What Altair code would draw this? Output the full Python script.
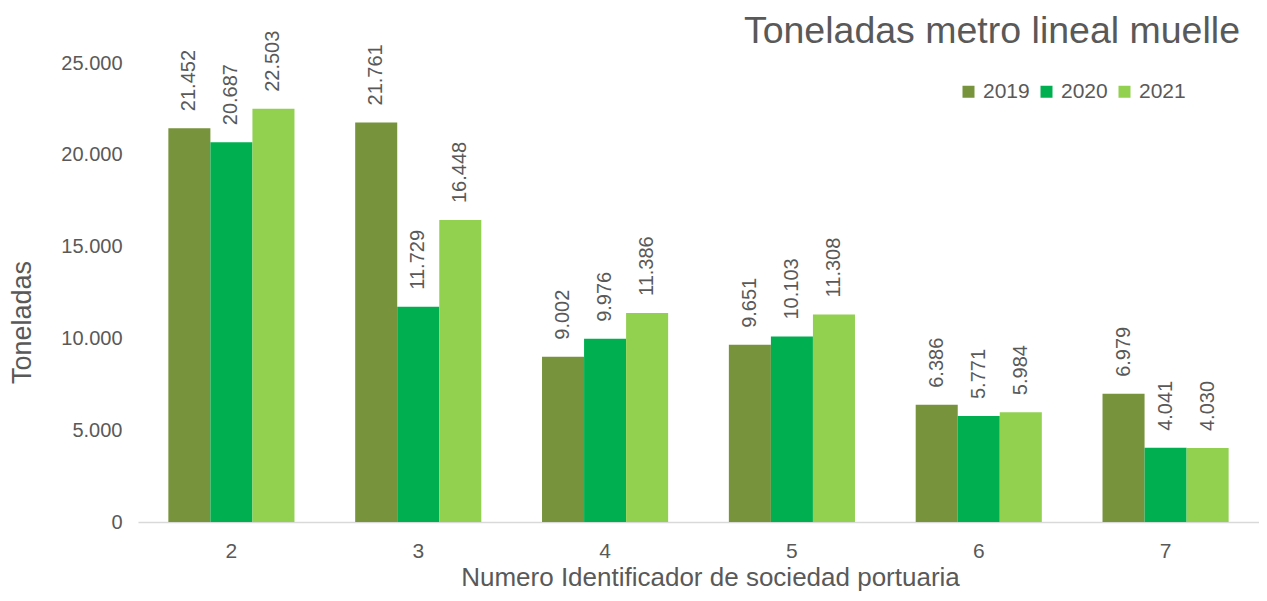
import altair as alt
import pandas as pd

sociedades = ["2", "3", "4", "5", "6", "7"]
anios = ["2019", "2020", "2021"]
v2019 = [21452, 21761, 9002, 9651, 6386, 6979]
v2020 = [20687, 11729, 9976, 10103, 5771, 4041]
v2021 = [22503, 16448, 11386, 11308, 5984, 4030]
colores = ["#77933C", "#00B050", "#92D050"]
y_ticks = [0, 5000, 10000, 15000, 20000, 25000]

rows = []
for anio, vals in zip(anios, [v2019, v2020, v2021]):
    for s, v in zip(sociedades, vals):
        rows.append({"sociedad": s, "anio": anio, "valor": v})
df = pd.DataFrame(rows)

FONT = "Liberation Sans"
GRAY = "#595959"
fmt = "replace(format(datum.valor, ','), ',', '.')"

x = alt.X(
    "sociedad:N", sort=sociedades,
    title="Numero Identificador de sociedad portuaria",
    scale=alt.Scale(paddingInner=0.325, paddingOuter=0.1625),
    axis=alt.Axis(labelAngle=0, labelFontSize=21, labelColor=GRAY, labelPadding=18,
                  ticks=False, domainColor="#D9D9D9", domainWidth=1.5,
                  titleFontSize=26, titleColor=GRAY, titleFontWeight="normal",
                  titlePadding=3, titleX=572, labelFont=FONT, titleFont=FONT),
)
y = alt.Y(
    "valor:Q", title="Toneladas",
    scale=alt.Scale(domain=[0, 25000], nice=False),
    axis=alt.Axis(values=y_ticks,
                  labelExpr="replace(format(datum.value, ','), ',', '.')",
                  grid=False, domain=False, ticks=False, labelPadding=16,
                  labelFontSize=20, labelColor=GRAY, labelFont=FONT,
                  titleFontSize=27, titleColor=GRAY, titleFont=FONT,
                  titleFontWeight="normal", titlePadding=24, titleY=259),
)
xo = alt.XOffset("anio:N", sort=anios, scale=alt.Scale(paddingInner=0, paddingOuter=0))

bars = alt.Chart(df).mark_bar().encode(
    x=x, y=y, xOffset=xo,
    color=alt.Color("anio:N", sort=anios,
                    scale=alt.Scale(domain=anios, range=colores),
                    legend=alt.Legend(orient="none", legendX=820, legendY=18,
                                      direction="horizontal", title=None,
                                      symbolType="square", symbolSize=144,
                                      symbolStrokeWidth=0, labelFontSize=21,
                                      labelColor=GRAY, labelFont=FONT,
                                      columnPadding=6, labelOffset=4)),
)

text = alt.Chart(df).transform_calculate(label=fmt).mark_text(
    angle=270, align="left", baseline="middle", dx=17,
    fontSize=20, color=GRAY, font=FONT,
).encode(x=x, y=y, xOffset=xo, text="label:N")

chart = alt.layer(bars, text).properties(
    width=1121, height=459,
    title=alt.TitleParams("Toneladas metro lineal muelle", anchor="end", frame="group",
                          fontSize=37.5, font=FONT, color=GRAY, fontWeight="normal",
                          offset=18, dx=-19, dy=38),
    autosize=alt.AutoSizeParams(type="none"),
    padding={"left": 130, "top": 55, "right": 0, "bottom": 72},
).configure_view(stroke=None)

chart.save("out.html", embed_options={"renderer": "svg", "actions": False})
